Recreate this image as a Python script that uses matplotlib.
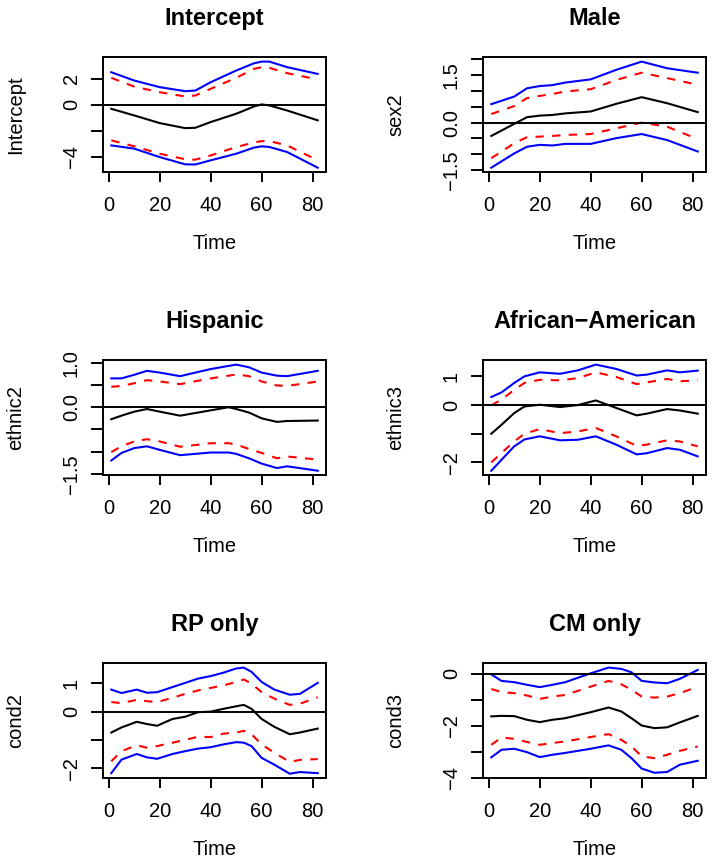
import matplotlib
matplotlib.use("Agg")
import matplotlib.pyplot as plt

plt.rcParams['font.family'] = ['Liberation Sans', 'DejaVu Sans']

# panel titles and y labels
titles = ['Intercept', 'Male', 'Hispanic', 'African\u2212American', 'RP only', 'CM only']
ylabels = ['Intercept', 'sex2', 'ethnic2', 'ethnic3', 'cond2', 'cond3']

# Intercept
t1 = [1, 10, 20, 30, 34, 40, 50, 57, 60, 63, 70, 82]
bu1 = [2.51, 1.87, 1.36, 1.05, 1.1, 1.74, 2.64, 3.2, 3.33, 3.33, 2.9, 2.38]
ru1 = [2.08, 1.4, 0.97, 0.64, 0.72, 1.23, 2.08, 2.77, 2.9, 2.85, 2.44, 1.95]
est1 = [-0.31, -0.82, -1.41, -1.8, -1.77, -1.33, -0.69, -0.13, 0.03, -0.05, -0.44, -1.2]
rl1 = [-2.74, -3.2, -3.77, -4.2, -4.23, -3.9, -3.26, -2.9, -2.8, -2.8, -3.13, -4.28]
bl1 = [-3.13, -3.38, -4.03, -4.59, -4.6, -4.28, -3.77, -3.3, -3.2, -3.25, -3.64, -4.85]

# Male
t2 = [1, 10, 15, 20, 25, 30, 40, 50, 60, 70, 82]
bu2 = [0.58, 0.82, 1.08, 1.15, 1.18, 1.26, 1.36, 1.66, 1.92, 1.71, 1.57]
ru2 = [0.27, 0.52, 0.77, 0.84, 0.9, 0.98, 1.05, 1.34, 1.57, 1.4, 1.19]
est2 = [-0.42, -0.04, 0.17, 0.22, 0.24, 0.29, 0.35, 0.59, 0.8, 0.61, 0.33]
rl2 = [-1.12, -0.65, -0.46, -0.44, -0.42, -0.39, -0.36, -0.18, 0.0, -0.13, -0.52]
bl2 = [-1.42, -0.97, -0.76, -0.7, -0.72, -0.67, -0.67, -0.49, -0.36, -0.55, -0.91]

# Hispanic
t3 = [1, 5, 10, 15, 20, 28, 40, 47, 50, 55, 60, 66, 70, 82]
bu3 = [0.65, 0.65, 0.73, 0.82, 0.78, 0.70, 0.86, 0.93, 0.96, 0.9, 0.78, 0.71, 0.70, 0.82]
ru3 = [0.46, 0.48, 0.54, 0.61, 0.58, 0.52, 0.65, 0.71, 0.74, 0.70, 0.58, 0.49, 0.48, 0.58]
est3 = [-0.27, -0.19, -0.10, -0.04, -0.10, -0.19, -0.07, 0.0, -0.04, -0.12, -0.25, -0.33, -0.31, -0.30]
rl3 = [-1.01, -0.88, -0.77, -0.72, -0.77, -0.89, -0.81, -0.81, -0.84, -0.94, -1.03, -1.15, -1.11, -1.18]
bl3 = [-1.2, -1.03, -0.92, -0.88, -0.96, -1.08, -1.02, -1.02, -1.05, -1.15, -1.27, -1.37, -1.33, -1.43]

# African-American
t4 = [1, 5, 10, 14, 20, 28, 35, 42, 50, 58, 62, 70, 75, 82]
bu4 = [0.28, 0.44, 0.77, 1.0, 1.14, 1.09, 1.21, 1.41, 1.26, 1.03, 1.06, 1.21, 1.14, 1.2]
ru4 = [-0.01, 0.19, 0.53, 0.77, 0.88, 0.86, 0.94, 1.14, 0.98, 0.73, 0.79, 0.91, 0.83, 0.86]
est4 = [-1.0, -0.69, -0.28, -0.05, 0.01, -0.07, 0.0, 0.16, -0.1, -0.36, -0.30, -0.14, -0.19, -0.30]
rl4 = [-2.0, -1.67, -1.27, -1.0, -0.84, -0.98, -0.92, -0.80, -1.09, -1.42, -1.38, -1.23, -1.27, -1.44]
bl4 = [-2.29, -1.91, -1.44, -1.2, -1.09, -1.23, -1.21, -1.09, -1.38, -1.72, -1.68, -1.5, -1.56, -1.79]

# RP only
t5 = [1, 5, 11, 15, 19, 25, 30, 35, 40, 45, 50, 53, 56, 60, 65, 71, 75, 82]
bu5 = [0.78, 0.66, 0.78, 0.67, 0.69, 0.87, 1.02, 1.17, 1.26, 1.38, 1.53, 1.56, 1.41, 1.05, 0.78, 0.60, 0.63, 1.02]
ru5 = [0.34, 0.30, 0.42, 0.37, 0.34, 0.49, 0.63, 0.75, 0.84, 0.93, 1.05, 1.14, 0.99, 0.69, 0.46, 0.24, 0.28, 0.51]
est5 = [-0.74, -0.56, -0.36, -0.44, -0.5, -0.26, -0.18, -0.02, 0.0, 0.10, 0.19, 0.24, 0.10, -0.26, -0.54, -0.80, -0.74, -0.60]
rl5 = [-1.76, -1.40, -1.19, -1.28, -1.22, -1.10, -1.0, -0.89, -0.90, -0.78, -0.74, -0.68, -0.80, -1.16, -1.46, -1.78, -1.71, -1.68]
bl5 = [-2.18, -1.70, -1.50, -1.62, -1.67, -1.50, -1.40, -1.31, -1.26, -1.16, -1.08, -1.10, -1.22, -1.64, -1.88, -2.20, -2.14, -2.18]

# CM only
t6 = [1, 5, 10, 15, 20, 25, 30, 40, 47, 52, 56, 60, 65, 70, 75, 82]
bu6 = [-0.03, -0.28, -0.33, -0.43, -0.52, -0.43, -0.33, 0.01, 0.23, 0.18, 0.05, -0.28, -0.34, -0.37, -0.20, 0.14]
ru6 = [-0.59, -0.71, -0.75, -0.84, -0.97, -0.88, -0.82, -0.50, -0.28, -0.41, -0.62, -0.88, -0.92, -0.88, -0.75, -0.50]
est6 = [-1.64, -1.62, -1.63, -1.77, -1.86, -1.77, -1.71, -1.48, -1.30, -1.45, -1.71, -1.99, -2.09, -2.06, -1.87, -1.62]
rl6 = [-2.73, -2.45, -2.50, -2.62, -2.73, -2.66, -2.60, -2.43, -2.32, -2.54, -2.79, -3.17, -3.24, -3.11, -2.96, -2.79]
bl6 = [-3.21, -2.92, -2.88, -3.01, -3.20, -3.11, -3.04, -2.88, -2.75, -2.92, -3.24, -3.64, -3.80, -3.77, -3.49, -3.34]

# y ticks and which of them carry a label (as R drops overlapping ones)
yticks = [
    ([-4, -2, 0, 2], ['\u22124', '', '0', '2']),
    ([-1.5, -1, -0.5, 0, 0.5, 1, 1.5, 2], ['\u22121.5', '', '', '0.0', '', '', '1.5', '']),
    ([-1.5, -1, -0.5, 0, 0.5, 1], ['\u22121.5', '', '', '0.0', '', '1.0']),
    ([-2, -1, 0, 1], ['\u22122', '', '0', '1']),
    ([-2, -1, 0, 1], ['\u22122', '', '0', '1']),
    ([-4, -3, -2, -1, 0], ['\u22124', '', '\u22122', '', '0']),
]

panels = [
    (t1, bu1, ru1, est1, rl1, bl1),
    (t2, bu2, ru2, est2, rl2, bl2),
    (t3, bu3, ru3, est3, rl3, bl3),
    (t4, bu4, ru4, est4, rl4, bl4),
    (t5, bu5, ru5, est5, rl5, bl5),
    (t6, bu6, ru6, est6, rl6, bl6),
]

fig = plt.figure(figsize=(7.14, 8.65), dpi=100)
lefts = [0.1443, 0.6765]
bottoms = [0.8012, 0.4509, 0.1006]

for i, (t, bu, ru, est, rl, bl) in enumerate(panels):
    ax = fig.add_axes([lefts[i % 2], bottoms[i // 2], 0.3123, 0.1325])
    ax.plot(t, bu, color='#0000FF', lw=1.5)
    ax.plot(t, ru, color='#FF0000', lw=1.5, ls=(0, (4, 4)))
    ax.plot(t, est, color='black', lw=1.5)
    ax.plot(t, rl, color='#FF0000', lw=1.5, ls=(0, (4, 4)))
    ax.plot(t, bl, color='#0000FF', lw=1.5)
    ax.axhline(0, color='black', lw=1.4)
    ax.margins(x=0.04, y=0.04)

    ax.set_xticks([0, 20, 40, 60, 80])
    ticks, labs = yticks[i]
    ax.set_yticks(ticks)
    ax.set_yticklabels(labs, rotation=90, va='center')
    ax.tick_params(axis='x', length=7.5, width=1.4, labelsize=14.5, pad=10)
    ax.tick_params(axis='y', length=9, width=1.4, labelsize=14.5, pad=7)
    for s in ax.spines.values():
        s.set_linewidth(1.4)

    ax.set_title(titles[i], fontsize=17, fontweight='bold', pad=23)
    ax.set_xlabel('Time', fontsize=14.5, va='center')
    ax.xaxis.set_label_coords(0.5, -0.62)
    ax.set_ylabel(ylabels[i], fontsize=14.5, va='center')
    ax.yaxis.set_label_coords(-0.39, 0.5)

fig.savefig('out.png', dpi=100)
